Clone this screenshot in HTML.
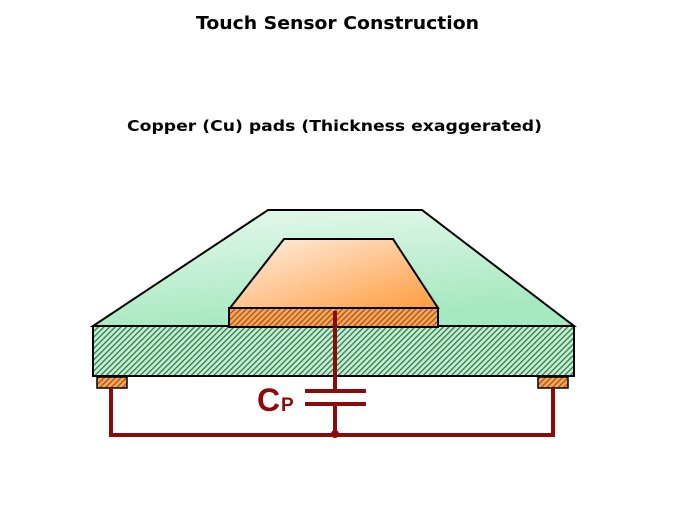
<!DOCTYPE html>
<html><head><style>body{margin:0;background:#fff}</style></head><body>
<svg width="675" height="506" viewBox="0 0 675 506" xmlns="http://www.w3.org/2000/svg">
<defs>
<linearGradient id="g1" x1="0" y1="0" x2="0.3" y2="1"><stop offset="0" stop-color="#e8f9ee"/><stop offset="1" stop-color="#a6e8c0"/></linearGradient>
<linearGradient id="g2" x1="0" y1="0" x2="1" y2="1"><stop offset="0" stop-color="#fff1e6"/><stop offset="1" stop-color="#ff9c3e"/></linearGradient>
<pattern id="hg" width="4" height="4" patternUnits="userSpaceOnUse" patternTransform="rotate(45)"><rect width="4" height="4" fill="#c6eed4"/><rect width="1.3" height="4" fill="#2f7a4a"/></pattern>
<pattern id="ho" width="4" height="4" patternUnits="userSpaceOnUse" patternTransform="rotate(45)"><rect width="4" height="4" fill="#f7a65a"/><rect width="1.3" height="4" fill="#a55418"/></pattern>
</defs>
<text x="196" y="29" textLength="283" lengthAdjust="spacingAndGlyphs" font-family="DejaVu Sans,sans-serif" font-weight="bold" font-size="18">Touch Sensor Construction</text>
<text x="127" y="131" textLength="415" lengthAdjust="spacingAndGlyphs" font-family="DejaVu Sans,sans-serif" font-weight="bold" font-size="15">Copper (Cu) pads (Thickness exaggerated)</text>
<polygon points="268,210 422,210 574,326 93,326" fill="url(#g1)" stroke="#000" stroke-width="2"/>
<polygon points="284,239 393,239 438,308 230,308" fill="url(#g2)" stroke="#000" stroke-width="2"/>
<rect x="93" y="326" width="481" height="50" fill="url(#hg)" stroke="#000" stroke-width="2"/>
<rect x="229" y="308" width="209" height="19" fill="url(#ho)" stroke="#000" stroke-width="2"/>
<rect x="97" y="377" width="30" height="11" fill="url(#ho)" stroke="#000" stroke-width="1.5"/>
<rect x="538" y="377" width="30" height="11" fill="url(#ho)" stroke="#000" stroke-width="1.5"/>
<g stroke="#8b0a0a" stroke-width="4" fill="none">
<line x1="335" y1="311" x2="335" y2="391"/>
<line x1="305" y1="391" x2="366" y2="391"/>
<line x1="305" y1="404" x2="366" y2="404"/>
<line x1="335" y1="404" x2="335" y2="435"/>
<polyline points="111,388 111,435 553,435 553,388"/>
</g>
<circle cx="335" cy="434" r="4" fill="#8b0a0a"/>
<text x="257" y="411" font-family="Liberation Sans,sans-serif" font-weight="bold" font-size="32" fill="#8b0a0a">C</text>
<text x="281" y="411" font-family="Liberation Sans,sans-serif" font-weight="bold" font-size="19" fill="#8b0a0a">P</text>
</svg>
</body></html>
